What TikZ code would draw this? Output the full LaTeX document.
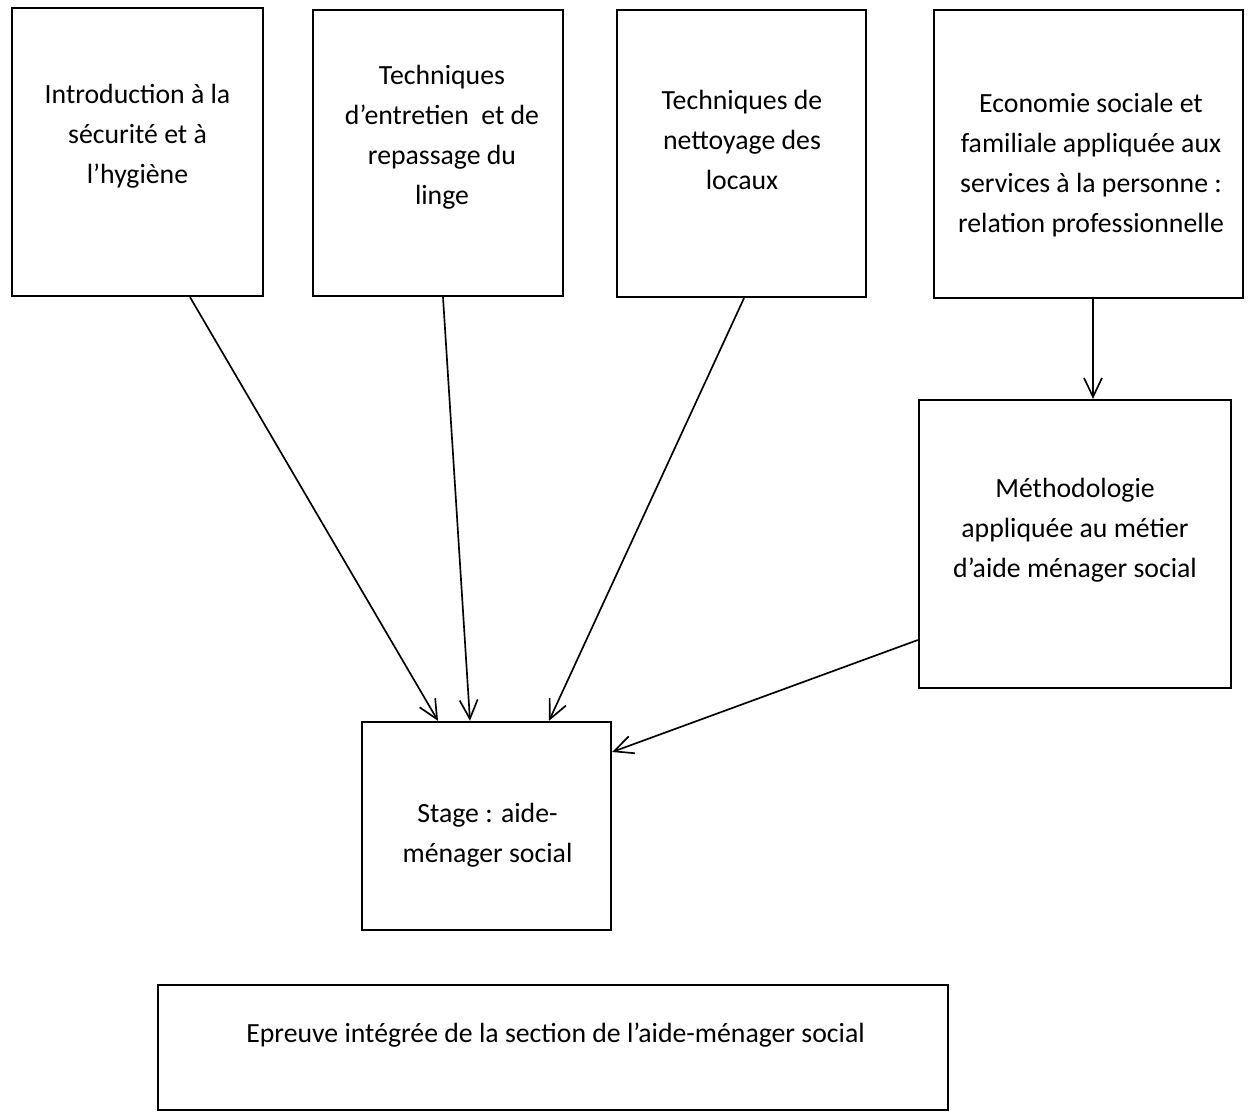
\documentclass[tikz,border=0pt]{standalone}
\usepackage{fontspec}
\setmainfont{Carlito}
\usetikzlibrary{arrows.meta}
\begin{document}
\begin{tikzpicture}[
    box/.style={draw, line width=1.3pt, inner sep=0pt},
    txt/.style={align=center, inner sep=0pt,
        font=\fontsize{15.8}{22.8}\selectfont},
    arr/.style={line width=0.95pt,
        -{Straight Barb[length=0.38cm, width=0.36cm, line width=0.95pt]}}
]
\useasboundingbox (0, 0) rectangle (25.14, -22.26);

\node[box, minimum width=5.02cm, minimum height=5.76cm] (intro) at (2.75, -3.04) {};
\node[box, minimum width=5.00cm, minimum height=5.72cm] (linge) at (8.76, -3.06) {};
\node[box, minimum width=4.98cm, minimum height=5.74cm] (locaux) at (14.83, -3.07) {};
\node[box, minimum width=6.18cm, minimum height=5.76cm] (eco) at (21.77, -3.08) {};
\node[box, minimum width=6.24cm, minimum height=5.76cm] (metho) at (21.50, -10.88) {};
\node[box, minimum width=4.98cm, minimum height=4.16cm] (stage) at (9.73, -16.52) {};
\node[box, minimum width=15.80cm, minimum height=2.50cm] (epreuve) at (11.06, -20.95) {};

\node[txt] (introtext) at (2.75, -2.72) {Introduction à la\\ sécurité et à\\ l’hygiène};
\node[txt] (lingetext) at (8.84, -2.74) {Techniques\\ d’entretien\ \ et de\\ repassage du\\ linge};
\node[txt] (locauxtext) at (14.84, -2.80) {Techniques de\\ nettoyage des\\ locaux};
\node[txt] (ecotext) at (21.82, -3.30) {Economie sociale et\\ familiale appliquée aux\\ services à la personne :\\ relation professionnelle};
\node[txt] (methotext) at (21.50, -10.60) {Méthodologie\\ appliquée au métier\\ d’aide ménager social};
\node[txt] (stagetext) at (9.75, -16.70) {Stage : aide-\\ ménager social};
\node[txt] (epreuvetext) at (11.11, -20.70) {Epreuve intégrée de la section de l’aide-ménager social};

\draw[arr] ([xshift=1.05cm]intro.south) -- ([xshift=-0.97cm]stage.north);
\draw[arr] ([xshift=0.10cm]linge.south) -- ([xshift=-0.33cm]stage.north);
\draw[arr] ([xshift=0.05cm]locaux.south) -- ([xshift=1.25cm]stage.north);
\draw[arr] ([xshift=0.09cm]eco.south) -- ([xshift=0.36cm]metho.north);
\draw[arr] ([yshift=-1.92cm]metho.west) -- ([yshift=1.48cm]stage.east);
\end{tikzpicture}
\end{document}
